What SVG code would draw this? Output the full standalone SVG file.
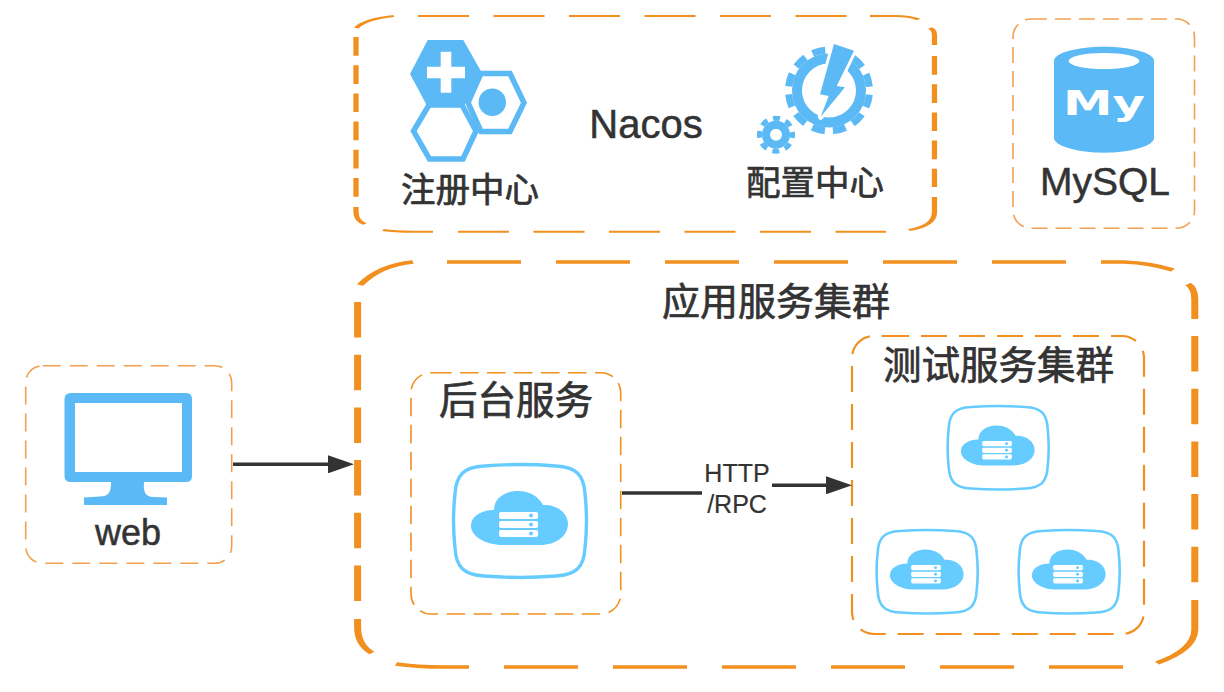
<svg xmlns="http://www.w3.org/2000/svg" xmlns:xlink="http://www.w3.org/1999/xlink" width="1224" height="692" viewBox="0 0 1224 692">
<style>
text{fill:#333;stroke:#333;stroke-width:.5;font-family:"Liberation Sans","Noto Sans CJK SC",sans-serif;text-anchor:middle}
.cjk{font-family:"Noto Sans CJK SC","Liberation Sans",sans-serif;font-weight:400;stroke-width:.7}
.o{fill:none;stroke:#f1901f}
.thin{fill:none;stroke:#f2a04f;stroke-width:1.6}
.blue{fill:#5bb9f5}
.hex{fill:#fff;stroke:#5bb9f5;stroke-width:5.5;stroke-linejoin:miter}
.frame{fill:#fff;stroke:#66ccff;stroke-width:3.4}
.cloud{fill:#66ccff}
.conn{fill:none;stroke:#333;stroke-width:3.4}
</style>
<defs>
<marker id="arrow" markerUnits="userSpaceOnUse" markerWidth="26" markerHeight="18" refX="0" refY="9" orient="auto"><path d="M0 0L26 9L0 18Z" fill="#333"/></marker>
<g id="srv">
<path class="frame" d="M30 0C55-2 77-2 102 0C122 1 130 9 131 28C133 46 133 64 131 82C130 101 122 109 102 110C77 112 55 112 30 110C10 109 2 101 1 82C-1 64-1 46 1 28C2 9 10 1 30 0Z"/>
<path class="cloud" d="M40 44C40 32 51 25 64 25C76 25 85 31 89 39C104 38 114 48 114 58C114 70 102 79 86 79H49C31 79 17 70 17 60C17 50 28 44 40 44Z"/>
<g fill="#fff"><rect x="45" y="46" width="39" height="7" rx="2"/><rect x="45" y="55" width="39" height="7" rx="2"/><rect x="45" y="64" width="39" height="7" rx="2"/></g>
<g fill="#66ccff"><circle cx="77" cy="49.5" r="2"/><circle cx="77" cy="58.5" r="2"/><circle cx="77" cy="67.5" r="2"/></g>
</g>
</defs>
<rect width="1224" height="692" fill="#fff"/>
<g id="nacos">
<g class="o" transform="scale(2.5 1)" stroke-width="2.1">
<path d="M142.5 28Q146 19 157.5 16"/>
<path d="M167.2 16H348" stroke-dasharray="20.4 9.8"/>
<path d="M348 16H358Q364 16 367.5 19.5"/>
<path d="M142.4 37V197" stroke-dasharray="18.7 9.5"/>
<path d="M142.4 207V212Q142.4 221 146 224"/>
<path d="M153.2 230Q158 231.7 165 231.7H173.2"/>
<path d="M183.2 231.7H354.4" stroke-dasharray="20.4 9.8"/>
<path d="M372 28Q373.8 30 373.8 35V45"/>
<path d="M373.8 56V187" stroke-dasharray="18.7 9.5"/>
<path d="M373.8 197V212Q373.8 226 363.6 230"/>
</g>
<g id="registry-icon">
<path class="blue" d="M427.7 40H463.3L482 73L463.3 107H427.7L410 74Z"/>
<path fill="#fff" d="M440.7 51.7H451.3V66.7H465V78.3H451.3V92.7H440.7V78.3H427V66.7H440.7Z"/>
<path class="hex" d="M429 105L413.5 131L429.5 159H463L476 131L462 105Z"/>
<path class="hex" d="M481 73.5H510L524 102.7L510 131.5H481L468 102.7Z"/>
<circle class="blue" cx="492.3" cy="102.3" r="13.7"/>
</g>
<g id="config-icon">
<circle cx="829" cy="90.5" r="32" fill="none" stroke="#5bb9f5" stroke-width="10"/>
<circle cx="829" cy="90.5" r="40.5" fill="none" stroke="#5bb9f5" stroke-width="7" stroke-dasharray="13 8.2" stroke-dashoffset="-4.1"/>
<path d="M834 44L854 50.7L836.7 86L845 87.3L820.7 116.7L828.7 96L820 94.3Z" fill="#5bb9f5" stroke="#fff" stroke-width="6" stroke-linejoin="round" paint-order="stroke"/>
<circle cx="776" cy="134.700" r="10" fill="none" stroke="#5bb9f5" stroke-width="8"/>
<circle cx="776" cy="134.700" r="16.500" fill="none" stroke="#5bb9f5" stroke-width="5" stroke-dasharray="7 5.96" stroke-dashoffset="3.5"/>
</g>
<text x="646" y="138" font-size="40">Nacos</text>
<text class="cjk" x="470" y="202" font-size="34.5">注册中心</text>
<text class="cjk" x="815" y="195" font-size="34.5">配置中心</text>
</g>
<g id="mysql">
<rect class="thin" x="1013" y="19" width="181.5" height="209.3" rx="18" stroke-dasharray="16 8"/>
<path class="blue" d="M1054 61C1054 52 1080 46.7 1104 46.7C1128 46.7 1154 52 1154 61V138C1154 146 1130 152.7 1104 152.7C1078 152.7 1054 146 1054 138Z"/>
<ellipse cx="1104" cy="61" rx="35.5" ry="8" fill="#fff"/>
<text x="1104" y="115" font-size="34" font-weight="700" style="fill:#fff;stroke:none;font-family:'DejaVu Sans',sans-serif" textLength="82" lengthAdjust="spacingAndGlyphs">My</text>
<text x="1105" y="195" font-size="39">MySQL</text>
</g>
<g id="web">
<rect class="thin" x="25.7" y="365.7" width="206" height="197.6" rx="17" stroke-dasharray="18 9"/>
<path class="blue" fill-rule="evenodd" d="M71 393H186Q192 393 192 399V476Q192 482 186 482H144C143 493 146 496.5 153 497L167 497.5V505H84V497.5L100 496.5C108 496 111 494 111 482H71Q64.500 482 64.500 476V399Q64.500 393 71 393ZM75 403V472H182V403Z"/>
<text x="128" y="545" font-size="36">web</text>
</g>
<g id="app-cluster">
<g class="o" transform="scale(2 1)" stroke-width="3.5">
<path d="M180 285Q190 265 206.500 262"/>
<path d="M223.500 262H536" stroke-dasharray="37 17.500"/>
<path d="M550.500 262H562Q575 263 586.500 270"/>
<path d="M178.800 302V602" stroke-dasharray="35.500 17.200"/>
<path d="M178.800 619V628Q179 645 186 653"/>
<path d="M198 664Q208 667 222 667H234.500"/>
<path d="M252 667H562" stroke-dasharray="37 17.500"/>
<path d="M594 284Q597.400 288 597.400 300V319"/>
<path d="M597.400 336V584" stroke-dasharray="35.500 17.200"/>
<path d="M597.400 600V630Q597 650 578.500 663"/>
</g>
<text class="cjk" x="776" y="315" font-size="38">应用服务集群</text>
</g>
<g id="backend">
<path class="thin" style="stroke:#f1901f" d="M433 372.700H600.700A20 20 0 0 1 620.700 392.700V594A20 20 0 0 1 600.700 614H431A20 20 0 0 1 411 594V392.700A20 20 0 0 1 431 372.700H433" stroke-dasharray="18.500 8.500"/>
<text class="cjk" x="516" y="414" font-size="38.500">后台服务</text>
<use xlink:href="#srv" href="#srv" transform="translate(454 466)"/>
</g>
<g id="test-cluster">
<path class="o" stroke-width="2.200" d="M883 336H1122A22 22 0 0 1 1144 358V612A22 22 0 0 1 1122 634H874A22 22 0 0 1 852 612V358A22 22 0 0 1 874 336H883" stroke-dasharray="26 12"/>
<text class="cjk" x="998.500" y="379" font-size="38.500">测试服务集群</text>
<use xlink:href="#srv" href="#srv" transform="translate(948 407) scale(.76 .74)"/>
<use xlink:href="#srv" href="#srv" transform="translate(877 531) scale(.76 .74)"/>
<use xlink:href="#srv" href="#srv" transform="translate(1019 531) scale(.76 .74)"/>
</g>
<g id="connectors">
<path class="conn" d="M233 464.300H328" marker-end="url(#arrow)"/>
<path class="conn" d="M622 493H702"/>
<path class="conn" d="M772 485.300H826" marker-end="url(#arrow)"/>
<text x="737" y="481.700" font-size="25" style="stroke-width:.2">HTTP</text>
<text x="737" y="513" font-size="25" style="stroke-width:.2">/RPC</text>
</g>
</svg>
